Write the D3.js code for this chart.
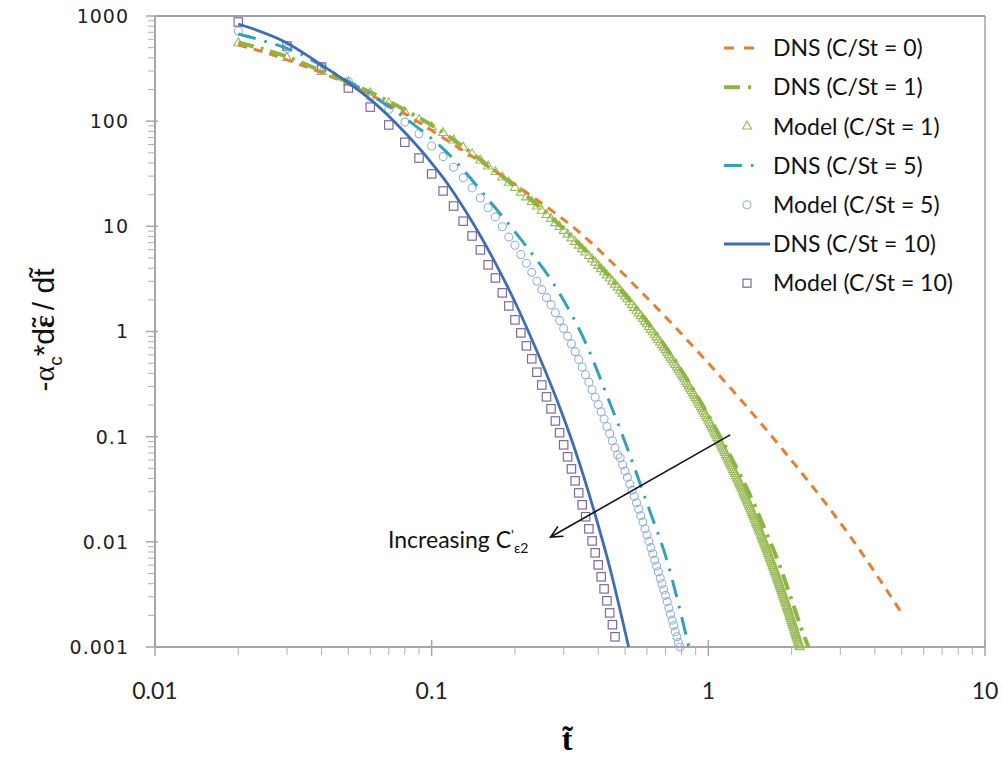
<!DOCTYPE html>
<html><head><meta charset="utf-8">
<script src="https://cdn.jsdelivr.net/npm/d3@7"></script>
<style>body{margin:0;background:#fff}svg{display:block}text{white-space:pre}</style>
</head><body>
<svg id="chart" width="1003" height="757"></svg>
<script>
// ---------- data ----------
const xTicks = [0.01, 0.1, 1, 10];
const xTickLabels = ["0.01", "0.1", "1", "10"];
const yTicks = [0.001, 0.01, 0.1, 1, 10, 100, 1000];
const yTickLabels = ["0.001", "0.01", "0.1", "1", "10", "100", "1000"];

const dns0T = [0.02,0.025,0.035,0.05,0.075,0.12,0.22,0.345,0.57,1.0,1.9,3.2,5.0];
const dns0Y = [530,450,330,225,130,60,21,8.6,2.4,0.5,0.07,0.012,0.0021];

const dns1T = [0.02,0.03,0.04,0.05,0.075,0.11,0.15,0.22,0.33,0.47,0.6,0.8,1.0,1.2,1.4,1.6,1.8,2.0,2.2,2.3];
const dns1Y = [560,410,300,235,140,78,43,19.5,7.4,2.7,1.25,0.425,0.16,0.066,0.0295,0.0132,0.0062,0.0028,0.00135,0.001];

const dns5T = [0.02,0.024,0.033,0.045,0.058,0.079,0.114,0.164,0.215,0.285,0.366,0.432,0.515,0.607,0.711,0.806,0.85];
const dns5Y = [674,592,445,280,190,110,50,16.7,6.95,2.48,0.71,0.239,0.072,0.0215,0.00646,0.0018,0.001];

const dns10T = [0.02,0.03,0.04,0.05,0.06,0.08,0.10,0.11,0.123,0.142,0.173,0.204,0.234,0.285,0.326,0.385,0.443,0.515];
const dns10Y = [840,555,342,231,161,78,40,29,19,10.4,4.1,1.71,0.76,0.216,0.082,0.0203,0.00535,0.001];

// Model points: t = 0.02, 0.03, ... (step 0.01)
const model1Start = 0.02;
const model1Y = [553,400,294,231,185,149,122,103,88,
77.3,65.6,56.3,48.7,42.4,37.2,32.9,29.2,26.0,23.3,
20.96,18.9,17.1,15.5,14.1,12.86,11.76,10.76,9.88,9.08,
8.36,7.70,7.12,6.58,6.09,5.65,5.24,4.87,4.53,4.22,
3.93,3.67,3.42,3.20,2.99,2.80,2.62,2.45,2.30,2.16,
2.03,1.904,1.789,1.682,1.582,1.490,1.403,1.322,1.246,1.175,
1.108,1.046,0.988,0.933,0.881,0.833,0.788,0.745,0.705,0.667,
0.631,0.598,0.566,0.537,0.508,0.482,0.457,0.434,0.411,0.390,
0.371,0.352,0.334,0.317,0.3015,0.2865,0.2723,0.2589,0.2461,0.2341,
0.2227,0.2118,0.2015,0.1917,0.1825,0.1738,0.1654,0.1575,0.1501,0.1429,
0.1362,0.1298,0.1237,0.1179,0.1124,0.1071,0.1022,0.0974,0.0929,0.0886,
0.0846,0.0807,0.0770,0.0735,0.0702,0.0670,0.0639,0.0610,0.0583,0.0556,
0.0531,0.0508,0.0485,0.0463,0.0443,0.0423,0.0404,0.0386,0.0369,0.0353,
0.0338,0.0323,0.0309,0.0295,0.0282,0.0270,0.0258,0.0247,0.0236,0.0226,
0.0216,0.0207,0.0198,0.0189,0.0181,0.0174,0.0166,0.0159,0.0152,0.0146,
0.0140,0.0134,0.0128,0.0123,0.0117,0.01124,0.01077,0.01031,0.00988,0.00946,
0.00907,0.00869,0.00833,0.00798,0.00764,0.00732,0.00702,0.00673,0.00645,0.00618,
0.00593,0.00568,0.00545,0.00522,0.00501,0.00480,0.00460,0.00441,0.00423,0.00406,
0.00389,0.00373,0.00358,0.00343,0.00329,0.00316,0.00303,0.00291,0.00279,0.00268,
0.00257,0.00246,0.00236,0.00227,0.00218,0.00209,0.00200,0.00193,0.00185,0.00177,
0.00170,0.00163,0.00157,0.00151,0.00145,0.00139,0.00133,0.00128,0.00123,0.00118,
0.00113,0.00109,0.00104,0.00100];

const model5Start = 0.02;
const model5Y = [720,490,330,240,170,130,98,76,58,
46,36.5,29,23.2,18.6,15,12.3,9.9,7.9,6.6,
5.4,4.45,3.65,3.0,2.5,2.1,1.80,1.51,1.27,1.07,
0.903,0.762,0.643,0.543,0.459,0.388,0.330,0.279,0.237,0.202,
0.172,0.147,0.125,0.107,0.0914,0.0782,0.0671,0.063,0.054,0.047,
0.041,0.0355,0.031,0.027,0.0235,0.0204,0.0177,0.0154,0.0133,0.0116,
0.0101,0.0088,0.0077,0.0067,0.0059,0.0052,0.0045,0.0040,0.0035,0.0031,
0.0027,0.00235,0.00205,0.0018,0.0016,0.0014,0.00125,0.0011,0.00100];

const model10Start = 0.02;
const model10Y = [877,519,327,207,136,92,63,44.6,31.5,
21.7,15.6,11.2,8.1,5.97,4.30,3.23,2.33,1.75,1.29,
0.97,0.73,0.55,0.41,0.31,0.239,0.184,0.141,0.109,0.0836,
0.0643,0.0494,0.0380,0.0292,0.0225,0.0173,0.0133,0.0102,0.00786,0.00604,
0.00465,0.00357,0.00275,0.00211,0.00163,0.00125];

const legendLabels = ["DNS (C/St = 0)","DNS (C/St = 1)","Model (C/St = 1)","DNS (C/St = 5)","Model (C/St = 5)","DNS (C/St = 10)","Model (C/St = 10)"];

// ---------- drawing ----------
const svg = d3.select("#chart");
const x = d3.scaleLog().domain([0.01, 10]).range([155, 985]);
const y = d3.scaleLog().domain([0.001, 1000]).range([647, 16]);

const C = {
  orange: "#E67F36", green: "#8DB545", tri: "#9BBB59",
  teal: "#33A2B6", circ: "#93B0D8", blue: "#3E6DB5", sq: "#7D6A9E"
};

svg.append("line").attr("x1", x(0.01)).attr("x2", x(10)).attr("y1", y(1000)).attr("y2", y(1000))
  .attr("stroke", "#7f7f7f").attr("stroke-width", 1.5);
svg.append("line").attr("x1", x(10)).attr("x2", x(10)).attr("y1", y(1000)).attr("y2", y(0.001))
  .attr("stroke", "#8c8c8c").attr("stroke-width", 1.2);

function minors(lo, hi) {
  const out = [];
  for (let e = Math.log10(lo); e < Math.log10(hi); e++) {
    for (let k = 2; k <= 9; k++) out.push(k * Math.pow(10, e));
  }
  return out;
}

// y axis
const yAxis = svg.append("g");
yAxis.append("line").attr("x1", 155).attr("x2", 155).attr("y1", y(1000)).attr("y2", y(0.001))
  .attr("stroke", "#a6a6a6").attr("stroke-width", 2);
yAxis.selectAll(".ymaj").data(yTicks).join("line")
  .attr("x1", 146).attr("x2", 158).attr("y1", d => y(d)).attr("y2", d => y(d))
  .attr("stroke", "#a6a6a6").attr("stroke-width", 1.5);
yAxis.selectAll(".ymin").data(minors(0.001, 1000)).join("line")
  .attr("x1", 148).attr("x2", 155).attr("y1", d => y(d)).attr("y2", d => y(d))
  .attr("stroke", "#b0b0b0").attr("stroke-width", 1);
yAxis.selectAll(".ylab").data(yTicks).join("text")
  .attr("x", 129).attr("y", d => y(d)).attr("dy", "0.36em")
  .attr("text-anchor", "end").attr("font-family", "DejaVu Sans, sans-serif")
  .attr("font-size", 19).attr("letter-spacing", 1).attr("fill", "#222")
  .text((d, i) => yTickLabels[i]);

// x axis
const xAxis = svg.append("g");
xAxis.append("line").attr("x1", x(0.01)).attr("x2", x(10)).attr("y1", 647).attr("y2", 647)
  .attr("stroke", "#a6a6a6").attr("stroke-width", 2);
xAxis.selectAll(".xmaj").data(xTicks).join("line")
  .attr("x1", d => x(d)).attr("x2", d => x(d)).attr("y1", 640).attr("y2", 656)
  .attr("stroke", "#a6a6a6").attr("stroke-width", 1.5);
xAxis.selectAll(".xmin").data(minors(0.01, 10)).join("line")
  .attr("x1", d => x(d)).attr("x2", d => x(d)).attr("y1", 647).attr("y2", 655)
  .attr("stroke", "#b0b0b0").attr("stroke-width", 1);
xAxis.selectAll(".xlab").data(xTicks).join("text")
  .attr("x", d => x(d)).attr("y", 699)
  .attr("text-anchor", "middle").attr("font-family", "Lato, sans-serif")
  .attr("font-size", 23).attr("fill", "#222")
  .text((d, i) => xTickLabels[i]);

// axis titles
svg.append("text").attr("x", 567).attr("y", 750).attr("text-anchor", "middle")
  .attr("font-family", "Liberation Serif, serif").attr("font-weight", "bold").attr("font-size", 32)
  .text("t\u0303");

const yt = svg.append("text").attr("transform", "translate(54,330) rotate(-90)")
  .attr("text-anchor", "middle").attr("font-family", "Liberation Sans, sans-serif")
  .attr("font-size", 30).attr("fill", "#111");
yt.append("tspan").text("-");
yt.append("tspan").attr("font-family", "Liberation Serif, serif").text("\u03B1");
yt.append("tspan").attr("font-size", 19).attr("dy", 8).text("c");
yt.append("tspan").attr("dy", -8).text("*d");
yt.append("tspan").attr("font-weight", "bold").attr("font-family", "Liberation Serif, serif").text("\u03B5");
yt.append("tspan").attr("font-weight", "bold").attr("dx", -12).attr("dy", -3).attr("font-size", 26).text("\u02DC");
yt.append("tspan").attr("dx", 0).attr("dy", 3).text(" / d");
yt.append("tspan").text("t\u0303");

// series helpers
const toPts = (T, Y) => T.map((t, i) => [t, Y[i]]);
const stepPts = (start, Y) => Y.map((v, i) => [+(start + i * 0.01).toFixed(2), v]);
const line = d3.line().x(d => x(d[0])).y(d => y(d[1])).curve(d3.curveMonotoneX);

const plot = svg.append("g");

const m1 = stepPts(model1Start, model1Y);
const m5 = stepPts(model5Start, model5Y);
const m10 = stepPts(model10Start, model10Y);
const triSym = d3.symbol().type(d3.symbolTriangle).size(36);

plot.selectAll(".tri").data(m1).join("path")
  .attr("d", triSym).attr("transform", d => `translate(${x(d[0])},${y(d[1])})`)
  .attr("fill", "none").attr("stroke", C.tri).attr("stroke-width", 1.1);
plot.selectAll(".circ").data(m5).join("circle")
  .attr("cx", d => x(d[0])).attr("cy", d => y(d[1])).attr("r", 4)
  .attr("fill", "none").attr("stroke", C.circ).attr("stroke-width", 1.1);
plot.selectAll(".sq").data(m10).join("rect")
  .attr("x", d => x(d[0]) - 4.2).attr("y", d => y(d[1]) - 4.2).attr("width", 8.4).attr("height", 8.4)
  .attr("fill", "none").attr("stroke", C.sq).attr("stroke-width", 1.2);

// DNS lines
plot.append("path").datum(toPts(dns0T, dns0Y)).attr("d", line)
  .attr("fill", "none").attr("stroke", C.orange).attr("stroke-width", 3).attr("stroke-dasharray", "9,7");
plot.append("path").datum(toPts(dns1T, dns1Y)).attr("d", line)
  .attr("fill", "none").attr("stroke", C.green).attr("stroke-width", 4).attr("stroke-dasharray", "16,7,3,7");
plot.append("path").datum(toPts(dns5T, dns5Y)).attr("d", line)
  .attr("fill", "none").attr("stroke", C.teal).attr("stroke-width", 3).attr("stroke-dasharray", "18,9,2.5,9");
plot.append("path").datum(toPts(dns10T, dns10Y)).attr("d", line)
  .attr("fill", "none").attr("stroke", C.blue).attr("stroke-width", 2.8);

// annotation arrow
const arrowFrom = [1.2, 0.104], arrowTo = [0.269, 0.0111];
const ax1 = x(arrowFrom[0]), ay1 = y(arrowFrom[1]), ax2 = x(arrowTo[0]), ay2 = y(arrowTo[1]);
svg.append("line").attr("x1", ax1).attr("y1", ay1).attr("x2", ax2).attr("y2", ay2)
  .attr("stroke", "#111").attr("stroke-width", 1.6);
const ang = Math.atan2(ay2 - ay1, ax2 - ax1);
const hl = 13, ha = 0.45;
svg.append("path")
  .attr("d", `M${ax2 - hl * Math.cos(ang - ha)},${ay2 - hl * Math.sin(ang - ha)} L${ax2},${ay2} L${ax2 - hl * Math.cos(ang + ha)},${ay2 - hl * Math.sin(ang + ha)}`)
  .attr("fill", "none").attr("stroke", "#111").attr("stroke-width", 1.6);
const at = svg.append("text").attr("x", 388).attr("y", y(0.0105) + 8)
  .attr("font-family", "Lato, sans-serif").attr("font-size", 23).attr("fill", "#111");
at.append("tspan").text("Increasing C");
at.append("tspan").attr("dy", -8).attr("font-size", 14).text("'");
at.append("tspan").attr("dy", 13).attr("font-size", 14).text("\u03B52");

// legend
const lg = svg.append("g");
const rowY = i => 48 + i * 39.2;
const lx0 = 724;
lg.append("line").attr("x1", lx0).attr("x2", 757).attr("y1", rowY(0)).attr("y2", rowY(0))
  .attr("stroke", C.orange).attr("stroke-width", 3).attr("stroke-dasharray", "10,10");
lg.append("line").attr("x1", lx0).attr("x2", 762).attr("y1", rowY(1)).attr("y2", rowY(1))
  .attr("stroke", C.green).attr("stroke-width", 4).attr("stroke-dasharray", "16,8,3,20");
lg.append("path").attr("d", triSym).attr("transform", `translate(747,${rowY(2)})`)
  .attr("fill", "none").attr("stroke", C.tri).attr("stroke-width", 1.1);
lg.append("line").attr("x1", lx0).attr("x2", 762).attr("y1", rowY(3)).attr("y2", rowY(3))
  .attr("stroke", C.teal).attr("stroke-width", 3).attr("stroke-dasharray", "18,9,2.5,20");
lg.append("circle").attr("cx", 747).attr("cy", rowY(4)).attr("r", 4)
  .attr("fill", "none").attr("stroke", C.circ).attr("stroke-width", 1.1);
lg.append("line").attr("x1", lx0).attr("x2", 770).attr("y1", rowY(5)).attr("y2", rowY(5))
  .attr("stroke", C.blue).attr("stroke-width", 2.8);
lg.append("rect").attr("x", 743).attr("y", rowY(6) - 4).attr("width", 8).attr("height", 8)
  .attr("fill", "none").attr("stroke", C.sq).attr("stroke-width", 1.2);
lg.selectAll(".lt").data(legendLabels).join("text")
  .attr("x", 773).attr("y", (d, i) => rowY(i)).attr("dy", "0.36em")
  .attr("font-family", "Lato, sans-serif").attr("font-size", 23).attr("fill", "#111")
  .text(d => d);
</script>
</body></html>
